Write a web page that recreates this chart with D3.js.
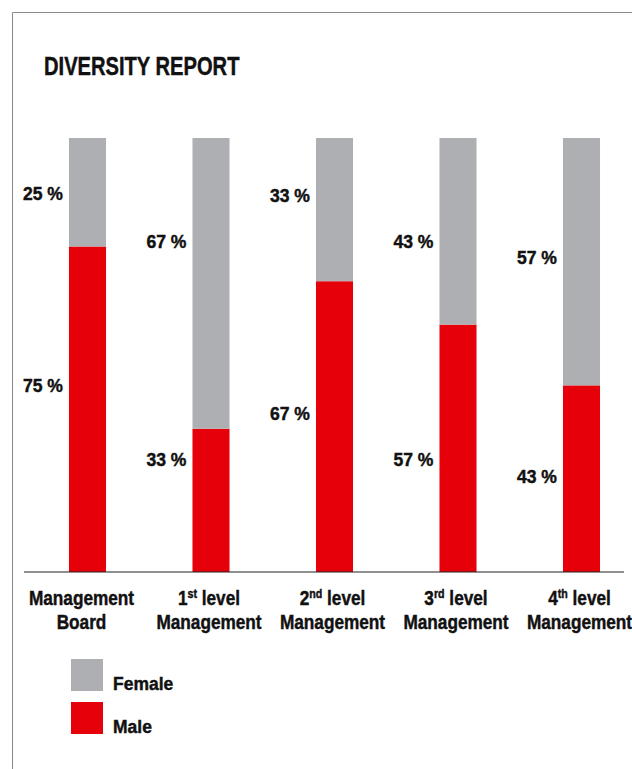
<!DOCTYPE html>
<html>
<head>
<meta charset="utf-8">
<script src="https://cdn.jsdelivr.net/npm/d3@7"></script>
<style>
  html, body { margin: 0; padding: 0; background: #fff; }
  svg { display: block; }
  text { font-family: "Liberation Sans", Arial, sans-serif; font-weight: bold; fill: #111; stroke: #111; stroke-width: 0.45px; }
</style>
</head>
<body>
<svg id="chart" width="632" height="769"></svg>
<script>
const categories = ["Management Board", "1st level Management", "2nd level Management", "3rd level Management", "4th level Management"];
// first line split as [number, superscript, rest], second line
const labelLines = [
  [["Management", "", ""], "Board"],
  [["1", "st", " level"], "Management"],
  [["2", "nd", " level"], "Management"],
  [["3", "rd", " level"], "Management"],
  [["4", "th", " level"], "Management"]
];
const femaleShare = [25, 67, 33, 43, 57];
const maleShare   = [75, 33, 67, 57, 43];
// where each percentage label sits on the 0–100 axis
const femaleLabelAt = [87.3, 76.3, 86.9, 76.3, 72.4];
const maleLabelAt   = [42.9, 26.0, 36.6, 26.0, 22.1];
const seriesNames = ["Female", "Male"];

const colors = { Female: "#aeafb2", Male: "#e60009" };

const svg = d3.select("#chart");

// condensed text: bold face squeezed horizontally around its anchor point
function condensed(parent, px, py, size, sx, anchor) {
  return parent.append("g").attr("transform", `translate(${px},${py}) scale(${sx},1)`)
    .append("text").attr("font-size", size).attr("text-anchor", anchor || "start");
}

// frame lines
svg.append("line").attr("x1", 12.5).attr("x2", 12.5).attr("y1", 12.5).attr("y2", 769)
  .attr("stroke", "#8a8a8a").attr("stroke-width", 1);
svg.append("line").attr("x1", 12.5).attr("x2", 632).attr("y1", 12.5).attr("y2", 12.5)
  .attr("stroke", "#8a8a8a").attr("stroke-width", 1);

// title
condensed(svg, 44, 75, 25.5, 0.79).text("DIVERSITY REPORT");

const x = d3.scaleBand().domain(categories).range([25.75, 643.25]).paddingInner(0.7).paddingOuter(0.35);
const y = d3.scaleLinear().domain([0, 100]).range([572, 138]);

const rows = categories.map((c, i) => ({ c, Male: maleShare[i], Female: femaleShare[i] }));
const stacked = d3.stack().keys(["Male", "Female"])(rows);

svg.append("g").selectAll("g").data(stacked).join("g")
  .attr("fill", d => colors[d.key])
  .selectAll("rect").data(d => d).join("rect")
  .attr("x", d => x(d.data.c))
  .attr("width", x.bandwidth())
  .attr("y", d => y(d[1]))
  .attr("height", d => y(d[0]) - y(d[1]));

// baseline
svg.append("line").attr("x1", 24).attr("x2", 624).attr("y1", y(0)).attr("y2", y(0))
  .attr("stroke", "#222").attr("stroke-width", 1.2);

// percentage labels
categories.forEach((c, i) => {
  condensed(svg, x(c) - 6, y(femaleLabelAt[i]), 18.5, 0.95, "end")
    .attr("dy", "0.36em").text(femaleShare[i] + " %");
  condensed(svg, x(c) - 6, y(maleLabelAt[i]), 18.5, 0.95, "end")
    .attr("dy", "0.36em").text(maleShare[i] + " %");
});

// category labels
categories.forEach((c, i) => {
  const cx = x(c) + x.bandwidth() / 2 - (i === 0 ? 6 : 2);
  const [l1, l2] = labelLines[i];
  const t1 = condensed(svg, cx, 605, 21, 0.82, "middle");
  t1.append("tspan").text(l1[0]);
  if (l1[1]) {
    t1.append("tspan").attr("font-size", 13).attr("dy", -7).text(l1[1]);
    t1.append("tspan").attr("dy", 7).text(l1[2]);
  }
  condensed(svg, cx, 628.5, 21, 0.82, "middle").text(l2);
});

// legend
const legendY = [659, 702];
seriesNames.forEach((s, i) => {
  svg.append("rect").attr("x", 71).attr("y", legendY[i]).attr("width", 32).attr("height", 32)
    .attr("fill", colors[s]);
  condensed(svg, 113, legendY[i] + 31, 19, 0.92).text(s);
});
</script>
</body>
</html>
